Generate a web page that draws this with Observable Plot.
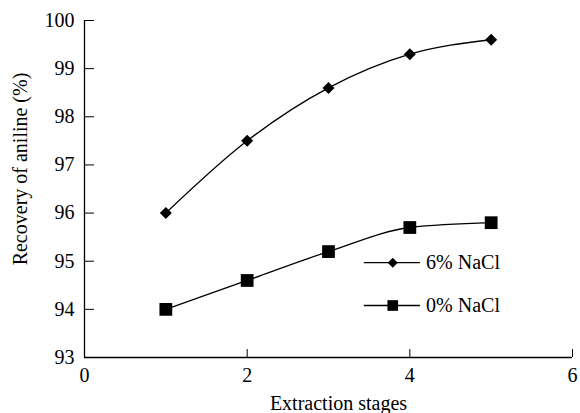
<!DOCTYPE html>
<html>
<head>
<meta charset="utf-8">
<script src="https://cdn.jsdelivr.net/npm/d3@7"></script>
<script src="https://cdn.jsdelivr.net/npm/@observablehq/plot@0.6"></script>
<style>
  html, body { margin: 0; padding: 0; background: #fff; }
  #chart svg { display: block; }
  #chart svg, #chart svg text { font-family: "Liberation Serif", "Times New Roman", serif !important; }
</style>
</head>
<body>
<div id="chart"></div>
<script>
const stages = [1, 2, 3, 4, 5];
const nacl6 = [96.0, 97.5, 98.6, 99.3, 99.6];
const nacl0 = [94.0, 94.6, 95.2, 95.7, 95.8];
const seriesNames = ["6% NaCl", "0% NaCl"];
const xTicks = [0, 2, 4, 6];
const yTicks = [93, 94, 95, 96, 97, 98, 99, 100];
const xLabel = "Extraction stages";
const yLabel = "Recovery of aniline (%)";

const d6 = stages.map((s, i) => ({x: s, y: nacl6[i]}));
const d0 = stages.map((s, i) => ({x: s, y: nacl0[i]}));

const font = "Liberation Serif";

const chart = Plot.plot({
  width: 580,
  height: 413,
  marginLeft: 84,
  marginRight: 8,
  marginTop: 20,
  marginBottom: 56,
  style: {fontFamily: font, fontSize: "20px", color: "black", background: "white"},
  x: {domain: [0, 6]},
  y: {domain: [93, 100]},
  marks: [
    Plot.axisX(xTicks, {tickSize: -8, tickPadding: 18, label: null, fontSize: 20, stroke: "black"}),
    Plot.axisY(yTicks, {tickSize: -10, tickPadding: 20, label: null, fontSize: 20, stroke: "black"}),
    Plot.ruleX([0], {stroke: "black", strokeWidth: 1.3}),
    Plot.ruleY([93], {stroke: "black", strokeWidth: 1.3}),
    Plot.line(d6, {x: "x", y: "y", curve: "monotone-x", stroke: "black", strokeWidth: 1.3}),
    Plot.line(d0, {x: "x", y: "y", curve: "monotone-x", stroke: "black", strokeWidth: 1.3}),
    Plot.dot(d6, {x: "x", y: "y", symbol: "diamond2", r: 5.4, fill: "black", stroke: "none"}),
    Plot.dot(d0, {x: "x", y: "y", symbol: "square", r: 7.2, fill: "black", stroke: "none"}),
    // legend
    Plot.ruleY([94.97], {x1: 3.44, x2: 4.13, stroke: "black", strokeWidth: 1.3}),
    Plot.ruleY([94.08], {x1: 3.44, x2: 4.13, stroke: "black", strokeWidth: 1.3}),
    Plot.dot([seriesNames[0]], {x: () => 3.79, y: () => 94.97, symbol: "diamond2", r: 4.5, fill: "black", stroke: "none"}),
    Plot.dot([seriesNames[1]], {x: () => 3.79, y: () => 94.08, symbol: "square", r: 6, fill: "black", stroke: "none"}),
    Plot.text([seriesNames[0]], {x: () => 4.2, y: () => 94.97, text: d => d, textAnchor: "start", fontSize: 20, fill: "black"}),
    Plot.text([seriesNames[1]], {x: () => 4.2, y: () => 94.08, text: d => d, textAnchor: "start", fontSize: 20, fill: "black"}),
    // axis titles
    Plot.text([xLabel], {frameAnchor: "bottom", text: d => d, textAnchor: "middle", dx: 10, dy: 38, lineAnchor: "top", fontSize: 20, fill: "black"}),
    Plot.text([yLabel], {frameAnchor: "left", text: d => d, textAnchor: "middle", rotate: -90, dx: -64, dy: -20, fontSize: 20, fill: "black"})
  ]
});
document.getElementById("chart").appendChild(chart);
</script>
</body>
</html>
